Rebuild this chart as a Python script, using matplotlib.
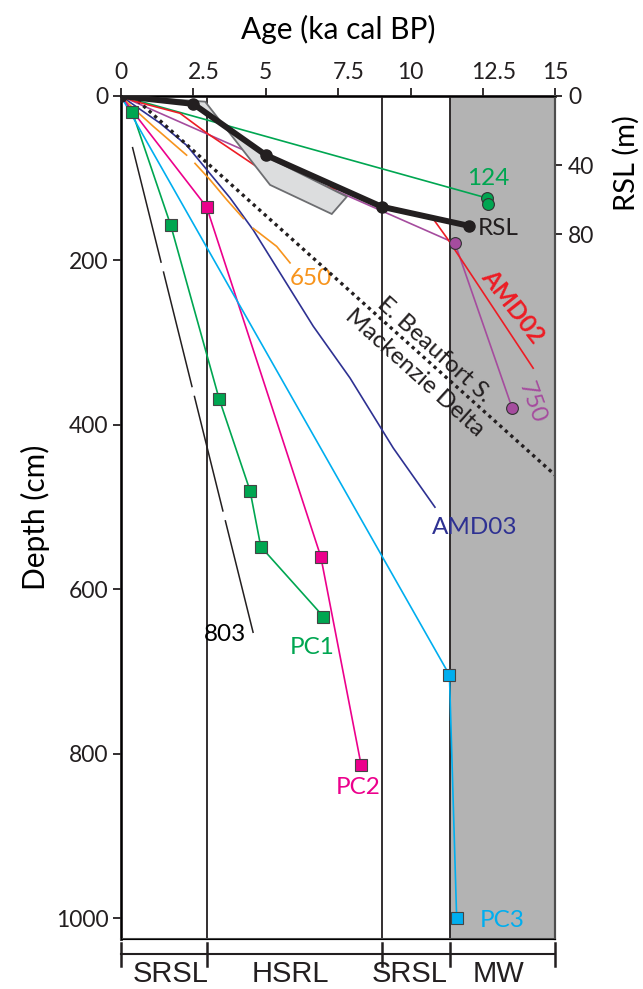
import numpy as np
import matplotlib.pyplot as plt
from matplotlib.transforms import blended_transform_factory, ScaledTranslation

plt.rcParams['font.family'] = ['Lato', 'DejaVu Sans']
plt.rcParams['lines.scale_dashes'] = False

# ages in ka cal BP, depths in cm
pc1_age = [0, 0.40, 1.72, 3.39, 4.46, 4.83, 6.99]
pc1_depth = [0, 20, 157, 368, 480, 548, 633]
pc2_age = [0, 2.96, 6.90, 8.29]
pc2_depth = [0, 135, 560, 813]
pc3_age = [0, 11.34, 11.59]
pc3_depth = [0, 704, 1000]
core124_age = [0, 12.62, 12.66]
core124_depth = [0, 124, 131]
core750_age = [0, 11.53, 13.51]
core750_depth = [0, 179, 380]
amd02_age = [0, 0.43, 2.04, 2.96, 4.69, 4.92, 5.49, 7.56, 8.94, 10.73, 11.3, 14.23]
amd02_depth = [0, 6, 21, 45, 86, 92, 99, 114, 132, 147, 175, 331]
amd03_age = [0, 1.35, 2.27, 3.77, 4.57, 6.64, 7.91, 9.4, 10.84]
amd03_depth = [0, 33, 60, 124, 163, 280, 343, 428, 500]
core650_age = [[0, 0.43, 1.12, 2.27], [2.56, 3.08, 3.65, 4.23], [4.57, 5.38, 5.84]]
core650_depth = [[0, 15, 37, 72], [82, 102, 126, 149], [161, 183, 203]]
core803_age = [0.40, 4.57]
core803_depth = [62, 653]
beaufort_age = [0.4, 16.0]
beaufort_depth = [0, 493]

# relative sea level curve (m) and its envelope
rsl_age = [0, 2.5, 5.0, 9.0, 12.0]
rsl_m = [0, 4.6, 34.1, 64, 75]
env_age = [0, 2.91, 5.15, 7.28, 7.8, 5.03, 2.5, 0]
env_m = [0, 3.3, 51.4, 68.2, 58.2, 35.1, 4.6, 0]

phase_bounds = [0, 2.97, 9.0, 11.35, 15]
phase_names = ['SRSL', 'HSRL', 'SRSL', 'MW']
phase_label_x = [1.73, 5.86, 9.98, 13.03]

green = '#00A651'
pink = '#EC008C'
cyan = '#00AEEF'
navy = '#2E3192'
red = '#ED1C24'
orange = '#F7941D'
purple = '#A54C9E'
dark = '#231F20'

fig = plt.figure(figsize=(6.43, 9.89), dpi=100)
ax = fig.add_axes([0.1879, 0.0506, 0.6760, 0.8524])
ax.set_xlim(0, 15)
ax.set_ylim(1025, 0)

ax.axvspan(phase_bounds[3], phase_bounds[4], color='#B3B3B3', zorder=0)
for b in phase_bounds[1:4]:
    ax.axvline(b, color=dark, lw=1.3, zorder=1)

ax2 = ax.twinx()
ax2.set_ylim(487, 0)
ax2.set_yticks([0, 40, 80])
ax2.fill(env_age, env_m, facecolor='#DCDDDE', edgecolor='#6D6E71', lw=1.3, zorder=1)
ax2.plot(rsl_age, rsl_m, color=dark, lw=4.3, marker='o', ms=8, zorder=3)

ms = 8.5
ax.plot(core124_age, core124_depth, color=green, lw=1.2, zorder=4)
ax.plot(core124_age[1:], core124_depth[1:], 'o', color=green, mec='#333333', mew=0.8, ms=ms, zorder=6)
ax.plot(core750_age, core750_depth, color=purple, lw=1.2, zorder=4)
ax.plot(core750_age[1:], core750_depth[1:], 'o', color=purple, mec='#333333', mew=0.8, ms=ms, zorder=6)
ax.plot(amd02_age, amd02_depth, color=red, lw=1.2, zorder=5)
ax.plot(amd03_age, amd03_depth, color=navy, lw=1.2, zorder=4)
for a, d in zip(core650_age, core650_depth):
    ax.plot(a, d, color=orange, lw=1.2, zorder=4)
ax.plot(core803_age, core803_depth, color=dark, lw=1.1, linestyle=(0, (86, 6.3)), zorder=4)
ax.plot(beaufort_age, beaufort_depth, color=dark, lw=2.4, linestyle=(0, (2.4, 2.9)), zorder=4)
ax.plot(pc1_age, pc1_depth, color=green, lw=1.2, zorder=4)
ax.plot(pc1_age[1:], pc1_depth[1:], 's', color=green, mec='#444444', mew=0.8, ms=ms, zorder=6)
ax.plot(pc2_age, pc2_depth, color=pink, lw=1.2, zorder=4)
ax.plot(pc2_age[1:], pc2_depth[1:], 's', color=pink, mec='#444444', mew=0.8, ms=ms, zorder=6)
ax.plot(pc3_age, pc3_depth, color=cyan, lw=1.2, zorder=4)
ax.plot(pc3_age[1:], pc3_depth[1:], 's', color=cyan, mec='#444444', mew=0.8, ms=ms, zorder=6)

fs = 17.5
ax.text(12.67, 100, '124', color=green, fontsize=fs, ha='center', va='center')
ax.text(13.03, 161, 'RSL', color=dark, fontsize=fs, ha='center', va='center')
ax.text(13.53, 256, 'AMD02', color=red, fontsize=fs, fontweight='bold',
        ha='center', va='center', rotation=-52, rotation_mode='anchor')
ax.text(14.18, 373, '750', color=purple, fontsize=fs, ha='center', va='center',
        rotation=-70, rotation_mode='anchor')
ax.text(10.8, 308, 'E. Beaufort S.', color=dark, fontsize=fs, ha='center', va='center',
        rotation=-42, rotation_mode='anchor')
ax.text(10.15, 337, 'Mackenzie Delta', color=dark, fontsize=fs, ha='center', va='center',
        rotation=-42, rotation_mode='anchor')
ax.text(6.56, 222, '650', color=orange, fontsize=fs, ha='center', va='center')
ax.text(12.22, 525, 'AMD03', color=navy, fontsize=fs, ha='center', va='center')
ax.text(3.6, 655, '803', color='black', fontsize=fs, ha='center', va='center')
ax.text(6.59, 671, 'PC1', color=green, fontsize=fs, ha='center', va='center')
ax.text(8.2, 841, 'PC2', color=pink, fontsize=fs, ha='center', va='center')
ax.text(13.15, 1002, 'PC3', color=cyan, fontsize=fs, ha='center', va='center')

tfs = 16.5
ax.xaxis.tick_top()
ax.xaxis.set_label_position('top')
ax.set_xticks([0, 2.5, 5, 7.5, 10, 12.5, 15])
ax.set_xticklabels(['0', '2.5', '5', '7.5', '10', '12.5', '15'])
ax.set_yticks([0, 200, 400, 600, 800, 1000])
ax.set_xlabel('Age (ka cal BP)', fontsize=21.5, labelpad=17)
ax.set_ylabel('Depth (cm)', fontsize=21.5, labelpad=4)
ax.tick_params(direction='out', length=6, width=1.3, labelsize=tfs, pad=3, colors=dark)
ax2.tick_params(direction='out', length=5, width=1.3, labelsize=tfs, pad=4, colors=dark)
ax2.text(1.162, 0.9205, 'RSL (m)', transform=ax2.transAxes, fontsize=21, rotation=90,
         ha='center', va='center')

# the half-step labels sit a little right of their ticks in the original
shift = ScaledTranslation(0.11, 0, fig.dpi_scale_trans)
for lab in ax.get_xticklabels():
    if '.' in lab.get_text():
        lab.set_transform(lab.get_transform() + shift)

for s in ['left', 'top']:
    ax.spines[s].set_linewidth(2)
    ax.spines[s].set_color(dark)
for s in ['bottom', 'right']:
    ax.spines[s].set_linewidth(1.5)
    ax.spines[s].set_color('#4D4D4D')
ax2.spines['right'].set_linewidth(1.5)
ax2.spines['right'].set_color('#4D4D4D')

trans = blended_transform_factory(ax.transData, ax.transAxes)
ax.plot([phase_bounds[0], phase_bounds[-1]], [-0.0183, -0.0183], transform=trans,
        clip_on=False, color=dark, lw=1.5)
for b in phase_bounds:
    ax.plot([b, b], [-0.0047, -0.032], transform=trans, clip_on=False, color=dark, lw=1.8)
for x, name in zip(phase_label_x, phase_names):
    ax.text(x, -0.0512, name, transform=trans, fontsize=21, family='Liberation Sans',
            ha='center', va='baseline', color=dark)

fig.savefig('out.png', dpi=100)
